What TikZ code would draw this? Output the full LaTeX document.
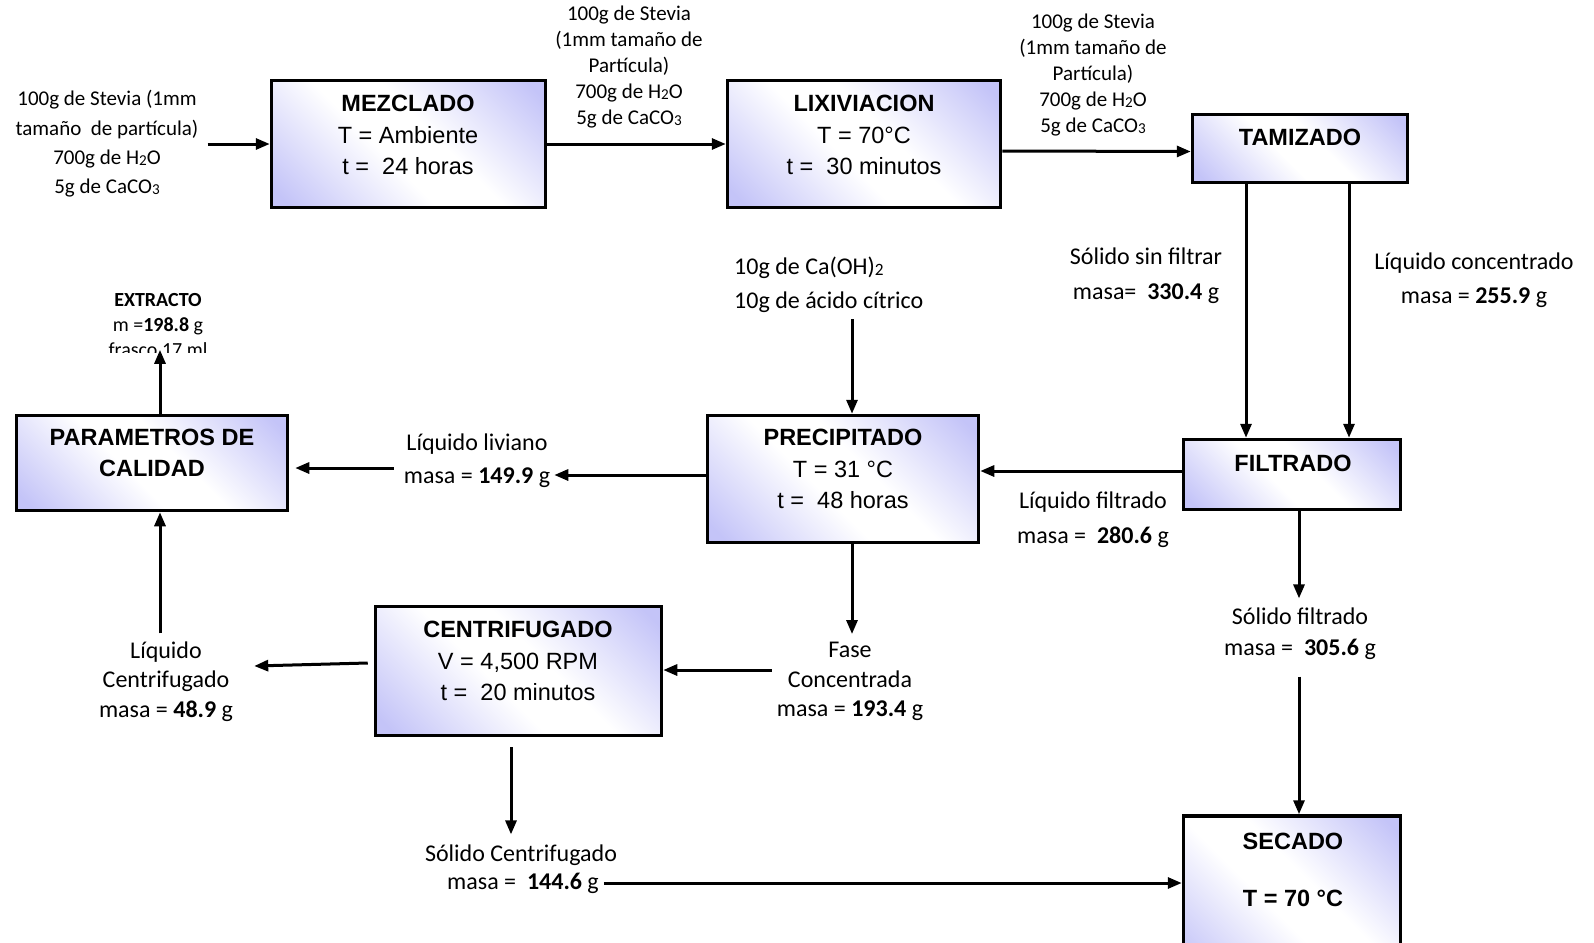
\documentclass[tikz,border=0pt]{standalone}
\usepackage{fontspec}
\setmainfont{Carlito}
\newfontfamily\arialf{Liberation Sans}
\usetikzlibrary{arrows.meta,calc}
\definecolor{lav}{RGB}{196,196,248}
\pgfdeclarehorizontalshading{boxshade}{100bp}{color(0bp)=(lav); color(18bp)=(lav); color(44bp)=(white); color(56bp)=(white); color(82bp)=(lav); color(100bp)=(lav)}
\newcommand{\sbx}[1]{\raisebox{-0.1ex}{\scalebox{0.72}{#1}}}
\tikzset{
 pbox/.style={draw=black, line width=3.5pt, shading=boxshade, shading angle=45, inner sep=0pt},
 btxt/.style={font=\arialf\fontsize{23.5}{31.5}\selectfont, align=center, inner sep=0pt},
 lbl/.style={font=\fontsize{24}{34}\selectfont, align=center, inner sep=0pt},
 sml/.style={font=\fontsize{21}{26}\selectfont, align=center, inner sep=0pt},
 arr/.style={line width=3pt, -{Triangle[length=14pt,width=11pt]}},
}
\begin{document}
\begin{tikzpicture}[x=1pt,y=-1pt]
\useasboundingbox (0,0) rectangle (1594,942);
% boxes
\node[pbox, minimum width=274pt, minimum height=127pt] (mez) at (408.5,144) {};
\node[pbox, minimum width=273pt, minimum height=127pt] (lix) at (864,144) {};
\node[pbox, minimum width=215pt, minimum height=68pt] (tam) at (1300,148.5) {};
\node[pbox, minimum width=271pt, minimum height=95pt] (param) at (152,463) {};
\node[pbox, minimum width=271pt, minimum height=127pt] (precip) at (843,479) {};
\node[pbox, minimum width=217pt, minimum height=70pt] (filt) at (1292,474.5) {};
\node[pbox, minimum width=286pt, minimum height=129pt] (centrif) at (518.5,671) {};
\node[pbox, minimum width=217pt, minimum height=160pt] (secado) at (1292,896) {};
% box texts
\node[btxt] (mezt) at (408,135) {\textbf{MEZCLADO}\\T = Ambiente\\t = \ 24 horas};
\node[btxt] (lixt) at (864,135) {\textbf{LIXIVIACION}\\T = 70°C\\t = \ 30 minutos};
\node[btxt] (tamt) at (1300,137) {\textbf{TAMIZADO}};
\node[btxt] (paramt) at (152,453) {\textbf{PARAMETROS DE}\\\textbf{CALIDAD}};
\node[btxt] (prect) at (843,469) {\textbf{PRECIPITADO}\\T = 31 °C\\t = \ 48 horas};
\node[btxt] (filtt) at (1293,463) {\textbf{FILTRADO}};
\node[btxt] (centt) at (518,661) {\textbf{CENTRIFUGADO}\\V = 4,500 RPM\\t = \ 20 minutos};
\node[btxt, font=\arialf\bfseries\fontsize{23.5}{57}\selectfont] (sect) at (1293,869.5) {SECADO\\T = 70 °C};
% labels
\node[sml, font=\fontsize{21}{29.3}\selectfont] (in) at (107,144) {100g de Stevia (1mm\\tamaño\ \ de partícula)\\700g de H\sbx{2}O\\5g de CaCO\sbx{3}};
\node[sml] (ml1) at (629,67) {100g de Stevia\\(1mm tamaño de\\Partícula)\\700g de H\sbx{2}O\\5g de CaCO\sbx{3}};
\node[sml] (ml2) at (1093,75) {100g de Stevia\\(1mm tamaño de\\Partícula)\\700g de H\sbx{2}O\\5g de CaCO\sbx{3}};
\node[lbl, font=\fontsize{24}{35}\selectfont] (ssf) at (1146,275.5) {Sólido sin filtrar\\masa=\ \ \textbf{330.4} g};
\node[lbl] (lcon) at (1474,280) {Líquido concentrado\\masa = \textbf{255.9} g};
\node[lbl, align=left, anchor=west] (ca) at (734,285) {10g de Ca(OH)\sbx{2}\\10g de ácido cítrico};
\begin{scope}
\clip (0,0) rectangle (330,352);
\node[lbl, font=\fontsize{20}{25}\selectfont] (ext) at (158,325) {\textbf{EXTRACTO}\\m =\textbf{198.8} g\\frasco 17 ml};
\end{scope}
\node[lbl] (liv1) at (477,444) {Líquido liviano};
\node[lbl] (liv2) at (477,478) {masa = \textbf{149.9} g};
\node[lbl, font=\fontsize{24}{35}\selectfont] (lf) at (1093,519.5) {Líquido filtrado\\masa = \ \textbf{280.6} g};
\node[lbl, font=\fontsize{24}{31}\selectfont] (sf) at (1300,633.5) {Sólido filtrado\\masa = \ \textbf{305.6} g};
\node[lbl, font=\fontsize{24}{29.5}\selectfont] (fase) at (850,681.5) {Fase\\Concentrada\\masa = \textbf{193.4} g};
\node[lbl, font=\fontsize{24}{29.5}\selectfont] (lc) at (166,681.5) {Líquido\\Centrifugado\\masa = \textbf{48.9} g};
\node[lbl] (sc1) at (521,855) {Sólido Centrifugado};
\node[lbl] (sc2) at (523,883) {masa = \ \textbf{144.6} g};
% connectors
\draw[arr] ($(in.east)+(9,0)$) -- (mez.west);
\draw[arr] (mez.east) -- (lix.west);
\draw[arr] ($(lix.east)+(0,7)$) -- ($(tam.west)+(0,3)$);
\draw[arr] ($(tam.south)+(-54,0)$) -- ($(filt.north)+(-46,0)$);
\draw[arr] ($(tam.south)+(49,0)$) -- ($(filt.north)+(57,0)$);
\draw[arr] ($(filt.west)+(0,-3.5)$) -- ($(precip.east)+(0,-8)$);
\draw[arr] ($(precip.west)+(0,-4)$) -- ($(liv2.east)+(4,-3)$);
\coordinate (livL) at ($(liv1.west)!0.5!(liv2.west)+(-11,7)$);
\draw[arr] (livL) -- ($(livL -| param.east)+(6,0)$);
\draw[arr] ($(ca.south -| precip.north)+(9,6)$) -- ($(precip.north)+(9,0)$);
\draw[arr] ($(precip.south)+(9,0)$) -- ($(fase.north)+(2,-8)$);
\draw[arr] ($(fase.west)+(-5,-11.5)$) -- ($(centrif.east)+(0,-1)$);
\draw[arr] ($(centrif.west)+(-6,-8)$) -- ($(lc.east)+(21,-15.5)$);
\draw[arr] ($(lc.north)+(-6,-8)$) -- ($(param.south)+(8,0)$);
\draw[arr] ($(param.north)+(8,0)$) -- ($(ext.south)+(2,-7)$);
\draw[arr] ($(centrif.south)+(-7.5,10)$) -- ($(sc1.north)+(-10,-10)$);
\draw[arr] ($(sc2.east)+(5,0)$) -- (sc2.east -| secado.west);
\draw[arr] ($(filt.south)+(7,0)$) -- ($(sf.north)+(-1,-9)$);
\draw[arr] ($(sf.south)+(-1,17)$) -- ($(secado.north)+(7,0)$);
\end{tikzpicture}
\end{document}
